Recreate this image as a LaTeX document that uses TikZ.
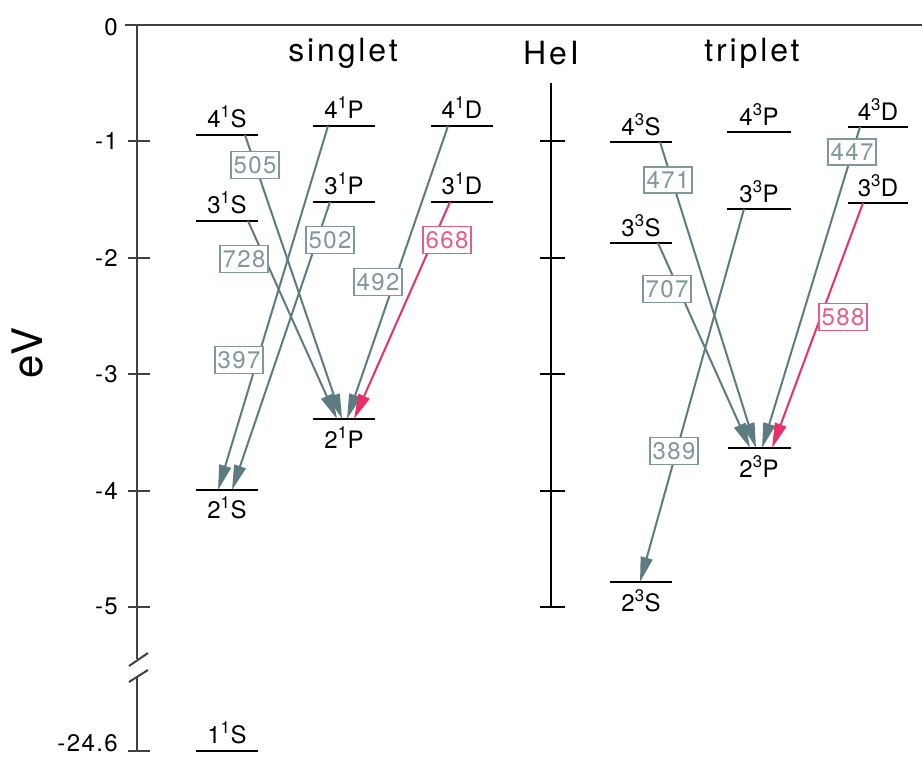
\documentclass[tikz,border=0pt]{standalone}
\usepackage{fontspec}
\setmainfont{TeX Gyre Heros}[LetterSpace=6]
\usetikzlibrary{arrows.meta}
\definecolor{arr}{RGB}{92,124,130}
\definecolor{lab}{RGB}{128,152,157}
\definecolor{redarr}{RGB}{232,48,105}
\definecolor{redlab}{RGB}{228,95,135}
\definecolor{axisc}{RGB}{65,65,65}
\newcommand{\spr}[1]{\textsuperscript{#1}}
\begin{document}
\begin{tikzpicture}[x=1pt,y=-1pt,
  lvl/.style={line width=2.5pt, black},
  lt/.style={font=\fontsize{24}{27}\selectfont, inner sep=0pt, anchor=base},
  ax/.style={line width=2pt, axisc},
  tr/.style={line width=2pt, arr, -{Triangle[length=25pt,width=12pt]}},
  trr/.style={tr, redarr},
  wl/.style={draw=lab, fill=white, text=lab, line width=1.3pt, inner xsep=2.5pt, inner ysep=4.5pt, font=\fontsize{24}{27}\selectfont},
  wlr/.style={wl, draw=redlab, text=redlab},
  ticklab/.style={font=\fontsize{24}{27}\selectfont, anchor=east, inner sep=0pt},
  head/.style={font=\fontsize{32}{36}\selectfont\addfontfeatures{LetterSpace=9}, inner sep=0pt},
]
\useasboundingbox (0,0) rectangle (922,758);
\fill[white] (0,0) rectangle (922,758);

% ---------- axes ----------
\coordinate (axtop) at (137,25);
\coordinate (axbrk1) at (137,659);
\coordinate (axbrk2) at (137,676);
\coordinate (axbot) at (137,751);
\coordinate (topL) at (125,25);
\coordinate (topR) at (922,25);
\draw[ax] (topL) -- (topR);
\draw[ax] (axtop) -- (axbrk1);
\draw[ax] (axbrk2) -- (axbot);
\draw[ax] (129,666) -- (148,653);
\draw[ax] (129,682) -- (148,670);
\foreach \y in {141,258,374,491,607,751} \draw[ax] (128,\y) -- (150,\y);
\node[ticklab] (t0) at (118,27) {0};
\node[ticklab] (t1) at (118,141) {-1};
\node[ticklab] (t2) at (118,258) {-2};
\node[ticklab] (t3) at (118,374) {-3};
\node[ticklab] (t4) at (118,491) {-4};
\node[ticklab] (t5) at (118,606) {-5};
\node[ticklab] (t246) at (118,743) {-24.6};
\node[rotate=90, font=\fontsize{42}{46}\selectfont, inner sep=0pt] (ev) at (28,353) {eV};

% HeI axis
\coordinate (hetop) at (551,83);
\coordinate (hebot) at (551,607);
\draw[ax, black] (hetop) -- (hebot);
\foreach \y in {141,258,374,491,607} \draw[ax, black] (540,\y) -- (565,\y);

% headings
\node[head] (hsing) at (343,53) {singlet};
\node[head] (hhe) at (551,53) {HeI};
\node[head] (htrip) at (752,53) {triplet};

% ---------- singlet levels ----------
\draw[lvl] (196,135) -- (258,135);  \node[lt] (n4s) at (227,127) {4\spr{1}S};
\draw[lvl] (313,126) -- (375,126);  \node[lt] (n4p) at (344,118) {4\spr{1}P};
\draw[lvl] (431,126) -- (493,126);  \node[lt] (n4d) at (462,118) {4\spr{1}D};
\draw[lvl] (196,221) -- (258,221);  \node[lt] (n3s) at (227,213) {3\spr{1}S};
\draw[lvl] (313,202) -- (375,202);  \node[lt] (n3p) at (344,194) {3\spr{1}P};
\draw[lvl] (431,202) -- (493,202);  \node[lt] (n3d) at (462,194) {3\spr{1}D};
\draw[lvl] (313,419) -- (375,419);  \node[lt] (n2p) at (344,448) {2\spr{1}P};
\draw[lvl] (196,490) -- (258,490);  \node[lt] (n2s) at (227,518) {2\spr{1}S};
\draw[lvl] (196,751) -- (258,751);  \node[lt] (n1s) at (227,743) {1\spr{1}S};

% ---------- triplet levels ----------
\draw[lvl] (610,142) -- (672,142);  \node[lt] (m4s) at (641,135) {4\spr{3}S};
\draw[lvl] (727,132) -- (791,132);  \node[lt] (m4p) at (759,125) {4\spr{3}P};
\draw[lvl] (848,127) -- (908,127);  \node[lt] (m4d) at (878,120) {4\spr{3}D};
\draw[lvl] (610,243) -- (672,243);  \node[lt] (m3s) at (641,236) {3\spr{3}S};
\draw[lvl] (727,209) -- (791,209);  \node[lt] (m3p) at (759,202) {3\spr{3}P};
\draw[lvl] (848,203) -- (908,203);  \node[lt] (m3d) at (878,196) {3\spr{3}D};
\draw[lvl] (728,448) -- (791,448);  \node[lt] (m2p) at (759,477) {2\spr{3}P};
\draw[lvl] (610,582) -- (672,582);  \node[lt] (m2s) at (641,611) {2\spr{3}S};

% ---------- transition end points ----------
\coordinate (a505) at (245,135); \coordinate (b505) at (342,419);
\coordinate (a728) at (248,221); \coordinate (b728) at (337,419);
\coordinate (a397) at (328,126); \coordinate (b397) at (218,490);
\coordinate (a502) at (330,202); \coordinate (b502) at (232,490);
\coordinate (a492) at (448,126); \coordinate (b492) at (347,419);
\coordinate (a668) at (450,202); \coordinate (b668) at (354,419);
\coordinate (a471) at (660,142); \coordinate (b471) at (756,448);
\coordinate (a707) at (658,243); \coordinate (b707) at (750,448);
\coordinate (a389) at (744,209); \coordinate (b389) at (640,582);
\coordinate (a447) at (860,127); \coordinate (b447) at (762,448);
\coordinate (a588) at (863,203); \coordinate (b588) at (772,448);

\draw[tr] (a505) -- (b505);
\draw[tr] (a728) -- (b728);
\draw[tr] (a397) -- (b397);
\draw[tr] (a502) -- (b502);
\draw[tr] (a492) -- (b492);
\draw[trr] (a668) -- (b668);
\draw[tr] (a471) -- (b471);
\draw[tr] (a707) -- (b707);
\draw[tr] (a389) -- (b389);
\draw[tr] (a447) -- (b447);
\draw[trr] (a588) -- (b588);

% ---------- wavelength labels ----------
\node[wl] (w505) at (255,165) {505};
\node[wl] (w728) at (244,259) {728};
\node[wl] (w502) at (330,240) {502};
\node[wl] (w397) at (239,360) {397};
\node[wl] (w492) at (378,282) {492};
\node[wlr] (w668) at (447,240) {668};
\node[wl] (w471) at (668,180) {471};
\node[wl] (w707) at (667,289) {707};
\node[wl] (w389) at (674,451) {389};
\node[wl] (w447) at (852,152) {447};
\node[wlr] (w588) at (843,317) {588};
\end{tikzpicture}
\end{document}
